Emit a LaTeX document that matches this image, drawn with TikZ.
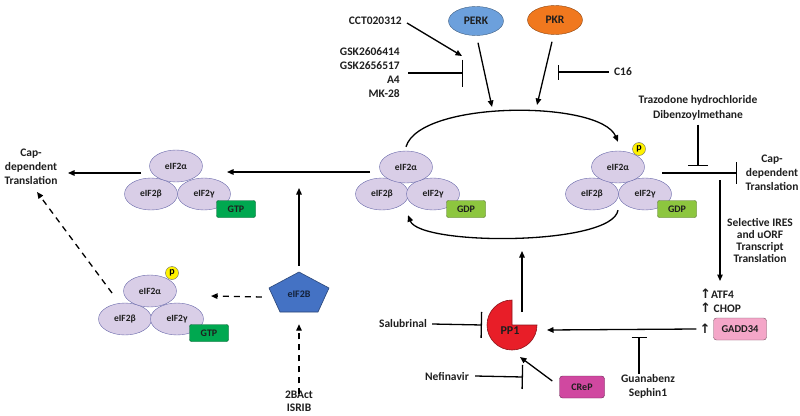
\documentclass[tikz,border=0pt]{standalone}
\usepackage{fontspec}
\setmainfont{Carlito}[BoldFont={Carlito Bold}]
\newfontfamily\symfont{DejaVu Sans}
\usetikzlibrary{shapes.geometric,arrows.meta}
\definecolor{subfill}{RGB}{217,206,231}
\definecolor{subline}{RGB}{105,105,170}
\definecolor{gtpc}{RGB}{0,168,80}
\definecolor{gdpc}{RGB}{141,198,63}
\definecolor{perkc}{RGB}{108,160,220}
\definecolor{pkrc}{RGB}{240,120,30}
\definecolor{eifb}{RGB}{68,114,196}
\definecolor{pp1c}{RGB}{232,30,40}
\definecolor{gaddc}{RGB}{244,166,200}
\definecolor{crepc}{RGB}{208,72,160}
\definecolor{txt}{RGB}{30,30,30}
\begin{document}
\begin{tikzpicture}[x=1pt,y=-1pt,
  sub/.style={ellipse, draw=subline, fill=subfill, minimum width=53pt, minimum height=32pt, inner sep=0pt, font=\bfseries\fontsize{9.5}{10}\selectfont, text=txt},
  nuc/.style={rectangle, rounded corners=2pt, minimum width=39pt, minimum height=17pt, inner sep=0pt, font=\bfseries\fontsize{10}{10}\selectfont, text=txt},
  gtp/.style={nuc, fill=gtpc, draw=gtpc!55!black},
  gdp/.style={nuc, fill=gdpc, draw=gdpc!55!black},
  phos/.style={circle, fill=yellow, draw=black!60, minimum size=13pt, inner sep=0pt, font=\bfseries\fontsize{10}{10}\selectfont},
  lbl/.style={font=\bfseries\fontsize{11.5}{14}\selectfont, align=center, text=txt, inner sep=0pt},
  tlbl/.style={font=\bfseries\fontsize{11.5}{12}\selectfont, align=center, text=txt, inner sep=0pt},
  arr/.style={line width=1.3pt, -{Triangle[length=6.5pt,width=5.5pt]}},
  darr/.style={arr, dash pattern=on 6pt off 5pt},
  inh/.style={line width=1.3pt, -{Bar[width=#1, line width=1.3pt]}},
  kinase/.style={ellipse, minimum width=55pt, minimum height=29pt, inner sep=0pt, font=\bfseries\fontsize{11.5}{12}\selectfont, text=txt}
]
\useasboundingbox (0,0) rectangle (800,415);

% kinases
\node[kinase, fill=perkc, draw=perkc!60!black] (perk) at (476,21) {PERK};
\node[kinase, fill=pkrc, draw=pkrc!60!black] (pkr) at (555,20) {PKR};

% top-left complex (GTP)
\node[sub] (tlB) at (151,194) {eIF2β};
\node[sub] (tlG) at (204,194) {eIF2γ};
\node[sub] (tlA) at (176,166) {eIF2α};
\node[gtp] (tlN) at (236,209) {GTP};

% middle complex (GDP)
\node[sub] (mB) at (382,194) {eIF2β};
\node[sub] (mG) at (433,194) {eIF2γ};
\node[sub] (mA) at (406,167) {eIF2α};
\node[gdp] (mN) at (466,209) {GDP};

% right complex (P, GDP)
\node[sub] (rB) at (592,194) {eIF2β};
\node[sub] (rG) at (645,194) {eIF2γ};
\node[sub] (rA) at (618,167) {eIF2α};
\node[gdp] (rN) at (677,209) {GDP};
\node[phos] (rP) at (639,149) {p};

% bottom-left complex (P, GTP)
\node[sub] (bB) at (125,319) {eIF2β};
\node[sub] (bG) at (177,319) {eIF2γ};
\node[sub] (bA) at (150,291) {eIF2α};
\node[gtp] (bN) at (209,333) {GTP};
\node[phos] (bP) at (172,273) {p};

% eIF2B pentagon
\filldraw[fill=eifb, draw=eifb!60!black, line width=0.6pt] (299,272) -- (329,288) -- (318,312) -- (280,312) -- (269,288) -- cycle;
\node[minimum width=60pt, minimum height=40pt, inner sep=0pt, font=\bfseries\fontsize{10}{10}\selectfont, text=eifb!30!black] (b2) at (299,294) {eIF2B};

% PP1 pac-man
\filldraw[fill=pp1c, draw=pp1c!60!black, line width=0.6pt] (512,325) -- (512,300) arc[start angle=90, end angle=360, radius=25pt] -- cycle;
\node[inner sep=0pt, font=\bfseries\fontsize{12}{12}\selectfont, text=txt] (pp1) at (510,331) {PP1};

% boxes
\node[rectangle, rounded corners=3pt, fill=gaddc, draw=gaddc!50!black, minimum width=53pt, minimum height=22pt, inner sep=0pt, font=\bfseries\fontsize{10.5}{10}\selectfont, text=txt] (gadd) at (740,329) {GADD34};
\node[rectangle, rounded corners=3pt, fill=crepc, draw=crepc!50!black, minimum width=45pt, minimum height=22pt, inner sep=0pt, font=\bfseries\fontsize{10}{10}\selectfont, text=txt] (crep) at (582,387) {CReP};

% text labels
\node[lbl] (capL) at (31,167) {Cap-\\dependent\\Translation};
\node[lbl] (capR) at (772,173) {Cap-\\dependent\\Translation};
\node[lbl, anchor=east] (cct) at (402,21) {CCT020312};
\node[lbl, anchor=east, align=right, font=\bfseries\fontsize{11.5}{14}\selectfont] (gsk) at (400,73) {GSK2606414\\GSK2656517\\A4\\MK-28};
\node[lbl] (c16) at (623,72) {C16};
\node[lbl, font=\bfseries\fontsize{11.5}{15}\selectfont] (traz) at (698,108) {Trazodone hydrochloride\\Dibenzoylmethane};
\node[tlbl] (sel) at (760,240) {Selective IRES\\and uORF\\Transcript\\Translation};
\node[lbl, anchor=west] (atf) at (700,294) {{\symfont\bfseries\fontsize{13}{14}\selectfont ↑}ATF4};
\node[lbl, anchor=west] (chop) at (700,308) {{\symfont\bfseries\fontsize{13}{14}\selectfont ↑} CHOP};
\node[lbl, anchor=center] (up3) at (705,329) {{\symfont\bfseries\fontsize{13}{14}\selectfont ↑}};
\node[lbl] (salu) at (403,324) {Salubrinal};
\node[lbl] (nef) at (447,376) {Nefinavir};
\node[lbl, font=\bfseries\fontsize{11.5}{14}\selectfont] (guan) at (648,386) {Guanabenz\\Sephin1};
\node[lbl, font=\bfseries\fontsize{11.5}{13}\selectfont] (isrib) at (299,401) {2BAct\\ISRIB};

% coordinates for free ends
\coordinate (arcP) at (492,107);
\coordinate (arcK) at (537,105);
\coordinate (gskT) at (462,56);
\coordinate (gskB) at (463,73);
\coordinate (c16B) at (558,72);
\coordinate (trazB) at (698,166);
\coordinate (rOut) at (662,173);
\coordinate (capB) at (737,173);
\coordinate (vTop) at (720,180);
\coordinate (vBot) at (720,281);
\coordinate (pp1In) at (547,330);
\coordinate (guanB) at (639,337);
\coordinate (saluB) at (482,325);
\coordinate (nefB) at (523,377);
\coordinate (crepT) at (520,357);
\coordinate (pp1Out) at (522,312);
\coordinate (arcB) at (522,251);
\coordinate (mOut) at (370,172);
\coordinate (tlIn) at (227,172);
\coordinate (b2T) at (299,188);
\coordinate (tlOut) at (141,173);
\coordinate (capLIn) at (68,173);
\coordinate (bOut) at (112,293);
\coordinate (capLd) at (37,192);
\coordinate (bIn) at (211,296);

% connectors
\draw[arr] ([xshift=2pt,yshift=-7pt]perk.south) -- (arcP);
\draw[arr] ([xshift=-3pt,yshift=-7pt]pkr.south) -- (arcK);
\draw[arr] ([xshift=5pt,yshift=-2pt]cct.east) -- (gskT);
\draw[inh=27pt] ([xshift=8pt]gsk.east) -- (gskB);
\draw[inh=15pt] ([xshift=-5pt]c16.west) -- (c16B);
\draw[inh=20pt] ([yshift=-4pt]traz.south) -- (trazB);
\draw[inh=22pt] (rOut) -- (capB);
\draw[arr] (vTop) -- (vBot);
\draw[arr] ([xshift=-3pt]up3.west) -- (pp1In);
\draw[inh=15pt] ([xshift=-9pt]guan.north) -- (guanB);
\draw[inh=26pt] ([xshift=5pt]salu.east) -- (saluB);
\draw[inh=24pt] ([xshift=6pt]nef.east) -- (nefB);
\draw[arr] ([xshift=-7pt,yshift=6pt]crep.west) -- (crepT);
\draw[arr] (pp1Out) -- (arcB);
\draw[arr] ([yshift=4pt]mA.north) .. controls (420,100) and (600,100) .. ([yshift=9pt]rA.north);
\draw[arr] ([xshift=26pt]rB.south) .. controls (612,246) and (420,246) .. ([xshift=26pt,yshift=-5pt]mB.south);
\draw[arr] (mOut) -- (tlIn);
\draw[arr] ([yshift=8pt]b2.north) -- (b2T);
\draw[darr] ([xshift=-7pt,yshift=-3pt]b2.west) -- (bIn);
\draw[darr] ([yshift=-4pt]isrib.north) -- ([yshift=-10pt]b2.south);
\draw[arr] (tlOut) -- (capLIn);
\draw[darr] (bOut) -- (capLd);
\end{tikzpicture}
\end{document}
